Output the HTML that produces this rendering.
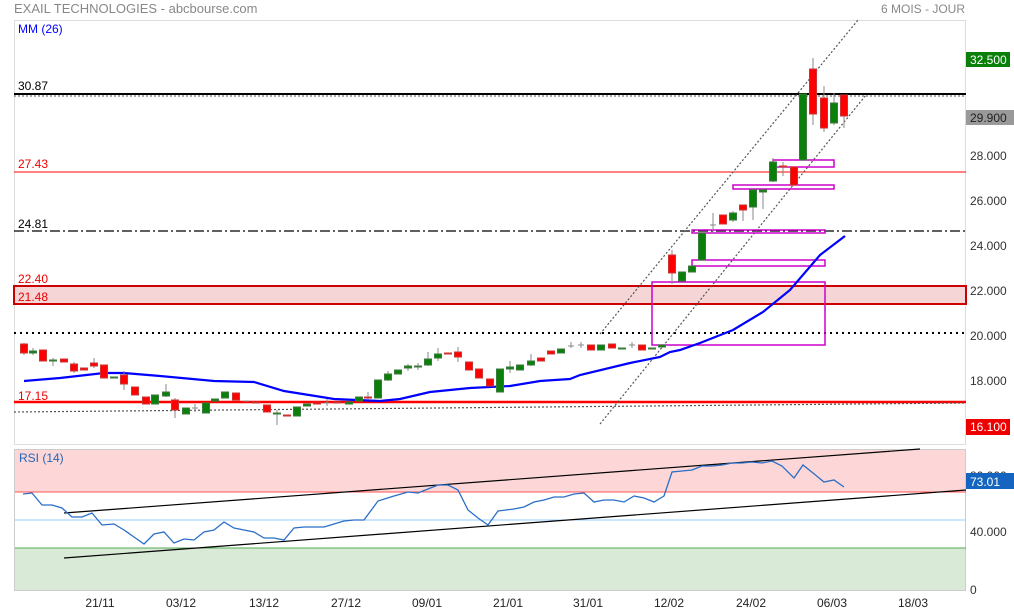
<!DOCTYPE html>
<html><head><meta charset="utf-8"><style>
body{margin:0;background:#fff;width:1014px;height:613px;overflow:hidden}
svg{display:block;font-family:"Liberation Sans",sans-serif}
</style></head><body>
<svg width="1014" height="613" viewBox="0 0 1014 613">
<text x="14" y="13" font-size="13" fill="#888">EXAIL TECHNOLOGIES - abcbourse.com</text>
<text x="965" y="13" font-size="12" fill="#888" text-anchor="end">6 MOIS - JOUR</text>
<rect x="14.5" y="20.5" width="951" height="424" fill="#fff" stroke="#ddd"/>
<rect x="14.5" y="449.5" width="951" height="141" fill="#fff" stroke="#ccc"/>
<!-- price bands -->
<rect x="14" y="286" width="952" height="18" fill="#f5d5d5" stroke="#c00" stroke-width="2"/>
<line x1="14" y1="94" x2="966" y2="94" stroke="#000" stroke-width="2"/>
<line x1="14" y1="96" x2="966" y2="96" stroke="#555" stroke-width="1" stroke-dasharray="2,2"/>
<line x1="14" y1="172" x2="966" y2="172" stroke="#f00" stroke-width="1"/>
<line x1="14" y1="231" x2="966" y2="231" stroke="#000" stroke-width="1.2" stroke-dasharray="10,3,2,3"/>
<line x1="14" y1="333" x2="966" y2="333" stroke="#000" stroke-width="2" stroke-dasharray="2,4"/>
<line x1="14" y1="402" x2="966" y2="402" stroke="#f00" stroke-width="2.5"/>
<line x1="14" y1="412" x2="966" y2="403" stroke="#555" stroke-width="1.2" stroke-dasharray="2,2"/>
<line x1="600" y1="334" x2="858" y2="20" stroke="#555" stroke-width="1.2" stroke-dasharray="2,2"/>
<line x1="600" y1="424" x2="866" y2="95" stroke="#555" stroke-width="1.2" stroke-dasharray="2,2"/>
<g fill="none" stroke="#c0c" stroke-width="1.5">
<rect x="652" y="282" width="173" height="63"/>
<rect x="692" y="260" width="133" height="6"/>
<rect x="692" y="230" width="133" height="3"/>
<rect x="733" y="185" width="101" height="4"/>
<rect x="773" y="160" width="61" height="7"/>
</g>
<text x="18" y="90" font-size="12" fill="#000">30.87</text>
<text x="18" y="168" font-size="12" fill="#e00">27.43</text>
<text x="18" y="228" font-size="12" fill="#000">24.81</text>
<text x="18" y="283" font-size="12" fill="#e00">22.40</text>
<text x="18" y="301" font-size="12" fill="#e00">21.48</text>
<text x="18" y="400" font-size="12" fill="#e00">17.15</text>
<text x="18" y="33" font-size="12" fill="#00f">MM (26)</text>
<!-- MA -->
<polyline fill="none" stroke="#00f" stroke-width="2.2" points="24,381 60,378 104,373 124,373 160,376 214,381 254,382 284,391 334,399 380,401 400,399 430,392 470,388 510,386 540,381 570,379 580,375 630,363 660,357 670,352 680,350 700,343 733,330 763,312 790,290 820,255 845,236"/>
<!-- candles -->
<g stroke-width="1">
<g stroke="#888">
<line x1="24" y1="343" x2="24" y2="355"/><line x1="33" y1="348" x2="33" y2="355"/><line x1="53" y1="358" x2="53" y2="366"/><line x1="74" y1="362" x2="74" y2="373"/><line x1="94" y1="358" x2="94" y2="368"/><line x1="124" y1="371" x2="124" y2="390"/><line x1="166" y1="384" x2="166" y2="397"/><line x1="175" y1="398" x2="175" y2="418"/><line x1="195" y1="404" x2="195" y2="412"/><line x1="277" y1="410" x2="277" y2="425"/><line x1="327" y1="399" x2="327" y2="406"/><line x1="368" y1="392" x2="368" y2="399"/><line x1="388" y1="371" x2="388" y2="381"/><line x1="408" y1="364" x2="408" y2="371"/><line x1="418" y1="363" x2="418" y2="370"/><line x1="428" y1="352" x2="428" y2="366"/><line x1="438" y1="348" x2="438" y2="361"/><line x1="458" y1="347" x2="458" y2="362"/><line x1="510" y1="361" x2="510" y2="373"/><line x1="531" y1="354" x2="531" y2="366"/><line x1="571" y1="342" x2="571" y2="348"/><line x1="581" y1="342" x2="581" y2="348"/><line x1="632" y1="342" x2="632" y2="348"/><line x1="672" y1="250" x2="672" y2="284"/><line x1="713" y1="213" x2="713" y2="233"/><line x1="733" y1="211" x2="733" y2="222"/><line x1="743" y1="205" x2="743" y2="221"/><line x1="753" y1="188" x2="753" y2="220"/><line x1="763" y1="189" x2="763" y2="209"/><line x1="773" y1="158" x2="773" y2="182"/><line x1="783" y1="162" x2="783" y2="176"/><line x1="813" y1="58" x2="813" y2="125"/><line x1="824" y1="86" x2="824" y2="132"/><line x1="834" y1="93" x2="834" y2="125"/><line x1="844" y1="95" x2="844" y2="128"/>
<line x1="710" y1="225" x2="716" y2="225"/><line x1="192" y1="408" x2="198" y2="408"/><line x1="324" y1="403" x2="330" y2="403"/><line x1="568" y1="346" x2="574" y2="346"/><line x1="578" y1="345" x2="584" y2="345"/><line x1="629" y1="345" x2="635" y2="345"/><line x1="243" y1="401" x2="249" y2="401"/>
</g>
<g fill="#f00" stroke="#c33">
<rect x="20.5" y="344" width="7" height="9"/><rect x="39.5" y="350" width="7" height="11"/><rect x="60.5" y="359" width="7" height="3"/><rect x="70.5" y="364" width="7" height="7"/><rect x="80.5" y="368" width="7" height="2"/><rect x="90.5" y="363" width="7" height="3"/><rect x="100.5" y="365" width="7" height="13"/><rect x="120.5" y="375" width="7" height="9"/><rect x="131.5" y="387" width="7" height="8"/><rect x="142.5" y="397" width="7" height="7"/><rect x="171.5" y="400" width="7" height="10"/><rect x="232.5" y="393" width="7" height="7"/><rect x="252.5" y="402" width="7" height="1"/><rect x="263.5" y="405" width="7" height="7"/><rect x="283.5" y="415" width="7" height="1"/><rect x="313.5" y="402" width="7" height="2"/><rect x="333.5" y="402" width="7" height="1"/><rect x="364.5" y="397" width="7" height="1"/><rect x="444.5" y="353" width="7" height="1"/><rect x="454.5" y="352" width="7" height="5"/><rect x="465.5" y="362" width="7" height="8"/><rect x="475.5" y="369" width="7" height="9"/><rect x="486.5" y="379" width="7" height="7"/><rect x="537.5" y="358" width="7" height="3"/><rect x="547.5" y="351" width="7" height="3"/><rect x="587.5" y="345" width="7" height="5"/><rect x="608.5" y="344" width="7" height="4"/><rect x="638.5" y="345" width="7" height="5"/><rect x="668.5" y="255" width="7" height="18"/><rect x="719.5" y="215" width="7" height="9"/><rect x="739.5" y="205" width="7" height="5"/><rect x="779.5" y="166" width="7" height="1"/><rect x="790.5" y="167" width="7" height="18"/><rect x="809.5" y="69" width="7" height="45"/><rect x="820.5" y="98" width="7" height="30"/><rect x="840.5" y="95" width="7" height="21"/>
</g>
<g fill="#0a800a" stroke="#3a7a3a">
<rect x="29.5" y="351" width="7" height="2"/><rect x="49.5" y="360" width="7" height="1"/><rect x="110.5" y="377" width="7" height="1"/><rect x="151.5" y="395" width="7" height="9"/><rect x="162.5" y="392" width="7" height="4"/><rect x="182.5" y="408" width="7" height="6"/><rect x="202.5" y="403" width="7" height="10"/><rect x="211.5" y="399" width="7" height="2"/><rect x="221.5" y="392" width="7" height="6"/><rect x="273.5" y="413" width="7" height="1"/><rect x="293.5" y="407" width="7" height="9"/><rect x="303.5" y="404" width="7" height="2"/><rect x="345.5" y="402" width="7" height="2"/><rect x="355.5" y="397" width="7" height="4"/><rect x="374.5" y="380" width="7" height="18"/><rect x="384.5" y="374" width="7" height="6"/><rect x="394.5" y="370" width="7" height="4"/><rect x="404.5" y="366" width="7" height="2"/><rect x="414.5" y="366" width="7" height="1"/><rect x="424.5" y="359" width="7" height="6"/><rect x="434.5" y="354" width="7" height="4"/><rect x="496.5" y="369" width="7" height="23"/><rect x="506.5" y="367" width="7" height="2"/><rect x="516.5" y="365" width="7" height="5"/><rect x="527.5" y="361" width="7" height="4"/><rect x="557.5" y="349" width="7" height="4"/><rect x="597.5" y="345" width="7" height="5"/><rect x="618.5" y="348" width="7" height="1"/><rect x="648.5" y="348" width="7" height="1"/><rect x="658.5" y="345" width="7" height="2"/><rect x="678.5" y="272" width="7" height="9"/><rect x="688.5" y="266" width="7" height="6"/><rect x="698.5" y="233" width="7" height="27"/><rect x="729.5" y="213" width="7" height="7"/><rect x="749.5" y="190" width="7" height="17"/><rect x="759.5" y="190" width="7" height="2"/><rect x="769.5" y="162" width="7" height="19"/><rect x="799.5" y="94" width="7" height="66"/><rect x="830.5" y="103" width="7" height="20"/>
</g>
</g>
<!-- right axis -->
<g font-size="12" fill="#333">
<text x="970" y="160">28.000</text><text x="970" y="205">26.000</text><text x="970" y="250">24.000</text><text x="970" y="295">22.000</text><text x="970" y="340">20.000</text><text x="970" y="385">18.000</text>
<text x="970" y="536">40.000</text><text x="970" y="594">0</text>
</g>
<rect x="966" y="52" width="44" height="15" fill="#0a800a"/><text x="970" y="64" font-size="12" fill="#fff">32.500</text>
<rect x="966" y="110" width="48" height="15" fill="#999"/><text x="970" y="122" font-size="12" fill="#222">29.900</text>
<rect x="966" y="419" width="44" height="16" fill="#e00"/><text x="970" y="431" font-size="12" fill="#fff">16.100</text>
<!-- RSI -->
<rect x="15" y="450" width="950" height="42" fill="#fdd7d7"/>
<rect x="15" y="548" width="950" height="42" fill="#d9ead7"/>
<line x1="15" y1="492" x2="966" y2="492" stroke="#f55"/>
<line x1="15" y1="520" x2="966" y2="520" stroke="#9cf"/>
<line x1="15" y1="548" x2="966" y2="548" stroke="#5a5"/>
<text x="19" y="462" font-size="12" fill="#2266bb">RSI (14)</text>
<line x1="64" y1="513" x2="920" y2="449" stroke="#000" stroke-width="1.2"/>
<line x1="64" y1="558" x2="966" y2="490" stroke="#000" stroke-width="1.2"/>
<polyline fill="none" stroke="#2a6ec8" stroke-width="1.3" points="23,494 32,493 42,505 52,505 62,508 72,517 82,517 92,513 102,525 114,524 124,530 134,537 144,544 154,534 164,532 174,543 184,539 194,540 204,532 214,530 224,522 234,528 244,530 254,532 264,538 274,538 284,540 294,528 304,527 324,527 334,524 344,521 354,520 364,520 378,501 394,496 408,492 418,493 428,489 438,485 448,485 458,490 468,510 478,518 488,525 498,511 514,509 524,507 534,502 544,500 554,497 564,497 574,494 584,493 594,502 604,500 614,500 624,502 634,496 644,498 654,502 664,496 672,472 682,471 692,470 702,466 712,466 722,465 732,463 742,463 752,462 762,463 772,461 782,466 794,478 803,465 813,473 824,482 834,480 844,487"/>
<text x="970" y="480" font-size="12" fill="#333">80.000</text>
<rect x="966" y="473" width="48" height="16" fill="#1565c0"/><text x="970" y="486" font-size="12" fill="#fff">73.01</text>
<!-- x labels -->
<g font-size="12" fill="#222" text-anchor="middle">
<text x="100" y="607">21/11</text><text x="181" y="607">03/12</text><text x="264" y="607">13/12</text><text x="346" y="607">27/12</text><text x="427" y="607">09/01</text><text x="508" y="607">21/01</text><text x="588" y="607">31/01</text><text x="669" y="607">12/02</text><text x="751" y="607">24/02</text><text x="832" y="607">06/03</text><text x="913" y="607">18/03</text>
</g>
</svg>
</body></html>
